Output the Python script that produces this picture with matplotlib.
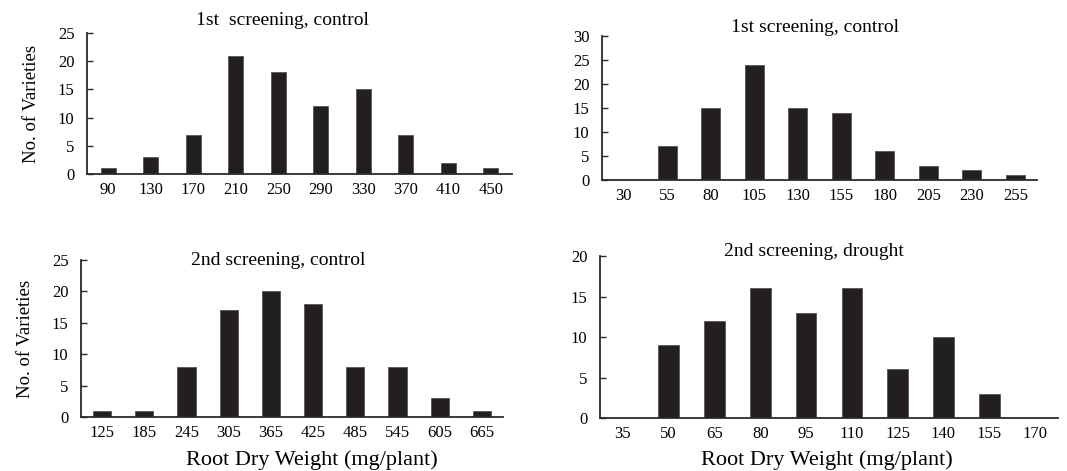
import matplotlib.pyplot as plt
import numpy as np

plt.rcParams["font.family"] = ["Liberation Serif", "DejaVu Serif"]

# bin centres (mg/plant) and variety counts for each screening
bins_1st_control_a = ["90", "130", "170", "210", "250", "290", "330", "370", "410", "450"]
counts_1st_control_a = [1, 3, 7, 21, 18, 12, 15, 7, 2, 1]

bins_1st_control_b = ["30", "55", "80", "105", "130", "155", "180", "205", "230", "255"]
counts_1st_control_b = [0, 7, 15, 24, 15, 14, 6, 3, 2, 1]

bins_2nd_control = ["125", "185", "245", "305", "365", "425", "485", "545", "605", "665"]
counts_2nd_control = [1, 1, 8, 17, 20, 18, 8, 8, 3, 1]

bins_2nd_drought = ["35", "50", "65", "80", "95", "110", "125", "140", "155", "170"]
counts_2nd_drought = [0, 9, 12, 16, 13, 16, 6, 10, 3, 0]

BAR_COLOR = "#231f20"
AXIS_COLOR = "#2b2b2b"

panels = [
    # rect, bins, counts, ymax, bar width, title, title pos (axes frac), xlabel pos, ylabel?
    ([0.0815, 0.6306, 0.3983, 0.2994], bins_1st_control_a, counts_1st_control_a, 25, 0.35,
     "1st  screening, control", (0.459, 1.085), None, True),
    ([0.5642, 0.6178, 0.4077, 0.3057], bins_1st_control_b, counts_1st_control_b, 30, 0.43,
     "1st screening, control", (0.49, 1.059), None, False),
    ([0.0759, 0.1146, 0.3955, 0.3333], bins_2nd_control, counts_2nd_control, 25, 0.43,
     "2nd screening, control", (0.467, 0.994), (0.547, -0.274), True),
    ([0.5623, 0.1125, 0.4292, 0.3439], bins_2nd_drought, counts_2nd_drought, 20, 0.45,
     "2nd screening, drought", (0.467, 1.031), (0.496, -0.259), False),
]

fig = plt.figure(figsize=(10.67, 4.71), dpi=100)

for rect, bins, counts, ymax, width, title, tpos, xlpos, show_ylabel in panels:
    ax = fig.add_axes(rect)
    x = np.arange(len(bins))
    ax.bar(x, counts, width=width, color=BAR_COLOR, edgecolor="#555555", linewidth=0.6)

    ax.set_xlim(-0.5, len(bins) - 0.5)
    ax.set_ylim(0, ymax)
    ax.set_yticks(np.arange(0, ymax + 1, 5))
    ax.set_xticks(x)
    ax.set_xticklabels(bins)

    for side in ("top", "right"):
        ax.spines[side].set_visible(False)
    for side in ("left", "bottom"):
        ax.spines[side].set_color(AXIS_COLOR)
        ax.spines[side].set_linewidth(1.3)

    ax.tick_params(axis="y", direction="in", length=4, width=1.0, color=AXIS_COLOR,
                   labelsize=12, pad=9)
    ax.tick_params(axis="x", length=0, labelsize=12, pad=6)

    ax.text(tpos[0], tpos[1], title, transform=ax.transAxes,
            ha="center", va="center", fontsize=14)

    if xlpos is not None:
        ax.text(xlpos[0], xlpos[1], "Root Dry Weight (mg/plant)", transform=ax.transAxes,
                ha="center", va="center", fontsize=16)
    if show_ylabel:
        ax.set_ylabel("No. of Varieties", fontsize=13.5, labelpad=13)

fig.savefig("out.png", dpi=100)
